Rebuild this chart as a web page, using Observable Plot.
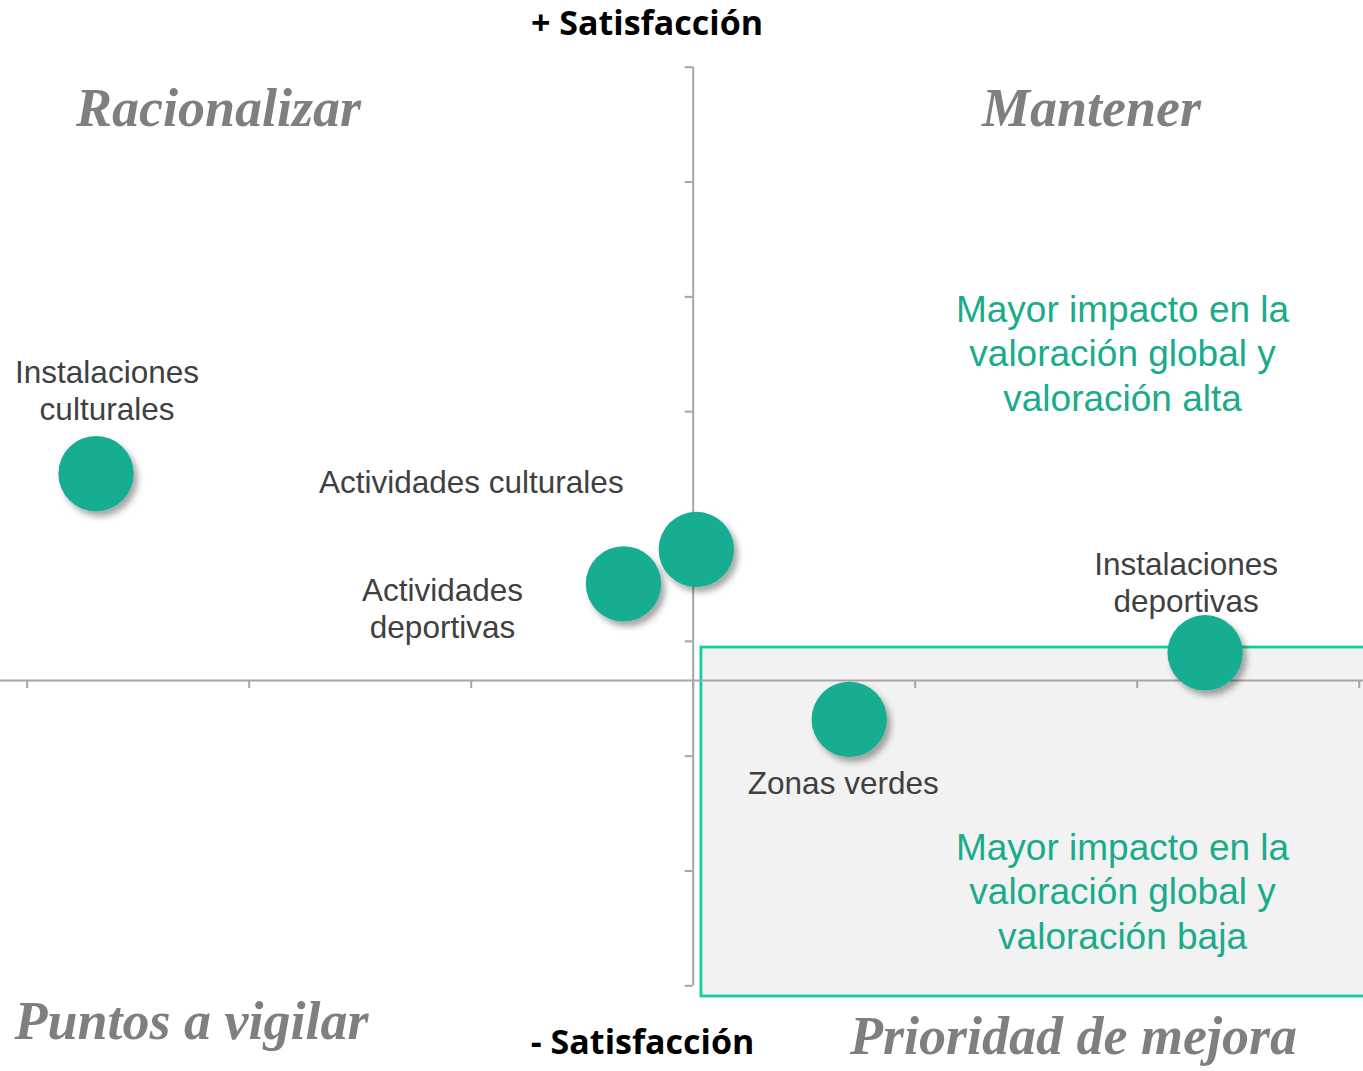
<!DOCTYPE html>
<html>
<head>
<meta charset="utf-8">
<script src="https://cdn.jsdelivr.net/npm/d3@7"></script>
<script src="https://cdn.jsdelivr.net/npm/@observablehq/plot@0.6"></script>
<style>
  html, body { margin: 0; padding: 0; background: #fff; overflow: hidden; }
  #chart svg { display: block; overflow: hidden; }
</style>
</head>
<body>
<div id="chart"></div>
<script>
// ---- data ----
const categories = ["Instalaciones culturales", "Actividades culturales", "Actividades deportivas", "Instalaciones deportivas", "Zonas verdes"];
const impacto = [-2.69, 0.014, -0.314, 2.306, 0.703];          // x: impacto en la valoración global
const satisfaccion = [4.46, 3.80, 3.50, 2.90, 2.32];           // y: satisfacción
const labelLines = ["Instalaciones\nculturales", "Actividades culturales", "Actividades\ndeportivas", "Instalaciones\ndeportivas", "Zonas verdes"];
const labelOffsetX = [11, -225, -181, -19, -6];
const labelOffsetY = [-84, -68, 24, -71, 63];

const xTicks = [-3, -2, -1, 0, 1, 2, 3];
const yTicks = [0, 1, 2, 3, 4, 5, 6, 7, 8];
const xCross = 0;        // vertical axis position
const yCross = 2.659;    // horizontal axis position (media satisfacción)

const quadrantTitles = ["Racionalizar", "Mantener", "Puntos a vigilar", "Prioridad de mejora"];
const quadrantX = [-2.138, 1.794, -2.26, 1.713];
const quadrantY = [7.64, 7.64, -0.31, -0.44];

const axisTitles = ["+ Satisfacción", "- Satisfacción"];
const axisTitleX = [-0.208, -0.228];
const axisTitleY = [8.375, -0.503];

const notes = ["Mayor impacto en la\nvaloración global y\nvaloración alta", "Mayor impacto en la\nvaloración global y\nvaloración baja"];
const noteX = [1.934, 1.934];
const noteY = [5.52, 0.835];

// highlighted zone (prioridad de mejora)
const zone = [{x1: 0.037, x2: 3.06, y1: -0.093, y2: 2.946}];

// ---- build ----
const points = categories.map((c, i) => ({cat: c, x: impacto[i], y: satisfaccion[i], label: labelLines[i]}));
const quads = quadrantTitles.map((t, i) => ({t, x: quadrantX[i], y: quadrantY[i]}));
const titles = axisTitles.map((t, i) => ({t, x: axisTitleX[i], y: axisTitleY[i]}));
const noteData = notes.map((t, i) => ({t, x: noteX[i], y: noteY[i]}));

const axisColor = "#a6a6a6";
const green = "#16ad91";

const labelMarks = points.map((p, i) => Plot.text([p], {
  x: "x", y: "y", text: "label",
  dx: labelOffsetX[i], dy: labelOffsetY[i],
  fontSize: 31.5, lineHeight: 1.17, lineAnchor: "middle", textAnchor: "middle",
  fill: "#404040", fontFamily: "Liberation Sans, Arial, sans-serif"
}));

const plot = Plot.plot({
  width: 1363,
  height: 1071,
  marginLeft: 26.7,
  marginRight: 4.3,
  marginTop: 66.7,
  marginBottom: 85.7,
  x: {domain: [-3, 3], axis: null},
  y: {domain: [0, 8], axis: null},
  style: {background: "#fff"},
  marks: [
    Plot.rect(zone, {x1: "x1", x2: "x2", y1: "y1", y2: "y2", fill: "#f2f2f2", stroke: "#0fd09c", strokeWidth: 2.8}),
    Plot.ruleX([xCross], {y1: 0, y2: 8, stroke: axisColor, strokeWidth: 2}),
    Plot.ruleY([yCross], {x1: -3.13, x2: 3.02, stroke: axisColor, strokeWidth: 2}),
    Plot.ruleX(xTicks, {x: d => d, y1: yCross, y2: yCross, insetBottom: -8, stroke: axisColor, strokeWidth: 2}),
    Plot.ruleY(yTicks, {y: d => d, x1: xCross, x2: xCross, insetLeft: -8, stroke: axisColor, strokeWidth: 2}),
    Plot.dot(points, {x: "x", y: "y", r: 37.7, fill: green, stroke: "none"}),
    ...labelMarks,
    Plot.text(noteData, {x: "x", y: "y", text: "t", fontSize: 37, lineHeight: 1.2, lineAnchor: "middle", textAnchor: "middle", fill: "#1aab8a", fontFamily: "Liberation Sans, Arial, sans-serif"}),
    Plot.text(titles, {x: "x", y: "y", text: "t", fontSize: 34, fontWeight: "bold", textAnchor: "middle", lineAnchor: "middle", fill: "#000", fontFamily: "Open Sans, sans-serif"}),
    Plot.text(quads, {x: "x", y: "y", text: "t", fontSize: 54, fontWeight: "bold", fontStyle: "italic", textAnchor: "middle", lineAnchor: "middle", fill: "#7f7f7f", fontFamily: "Liberation Serif, serif"})
  ]
});

// drop shadow for the bubbles
const svg = d3.select(plot);
const defs = svg.insert("defs", ":first-child");
const f = defs.append("filter").attr("id", "bubble-shadow").attr("x", "-50%").attr("y", "-50%").attr("width", "200%").attr("height", "200%");
f.append("feDropShadow").attr("dx", 4).attr("dy", 5).attr("stdDeviation", 3).attr("flood-color", "#000").attr("flood-opacity", 0.35);
svg.selectAll("g[aria-label='dot']").attr("filter", "url(#bubble-shadow)");

document.getElementById("chart").appendChild(plot);
</script>
</body>
</html>
